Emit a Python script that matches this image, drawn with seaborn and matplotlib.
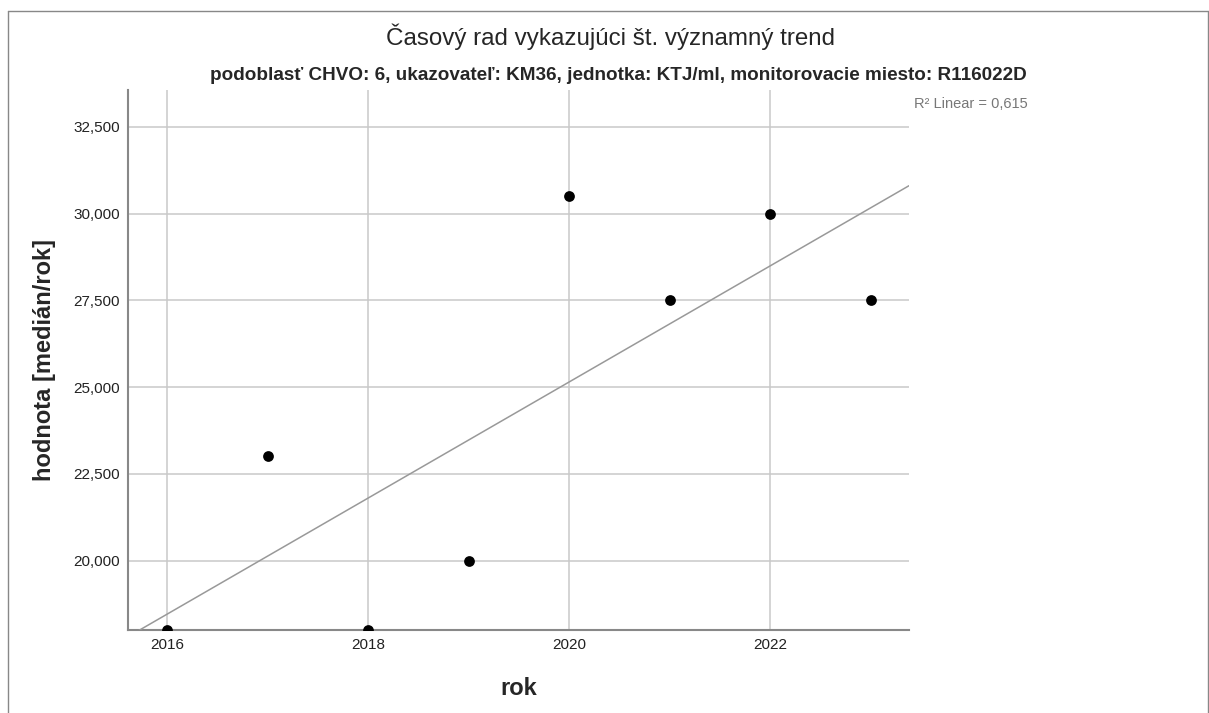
import numpy as np
import pandas as pd
import seaborn as sns
import matplotlib.pyplot as plt
from matplotlib.lines import Line2D
from matplotlib.ticker import FuncFormatter

# data
roky = [2016, 2017, 2018, 2019, 2020, 2021, 2022, 2023]
hodnoty = [18000, 23000, 18000, 20000, 30500, 27500, 30000, 27500]
x_ticks = [2016, 2018, 2020, 2022]
y_ticks = [20000, 22500, 25000, 27500, 30000, 32500]

data = pd.DataFrame({'rok': roky, 'hodnota': hodnoty})

sns.set_style('white')
plt.rcParams['font.family'] = ['Liberation Sans', 'DejaVu Sans']

fig = plt.figure(figsize=(12.09, 7.13), dpi=100)
# axes box in pixels: left 128, right 909, top 90, bottom 630
ax = fig.add_axes([128 / 1209, 1 - 630 / 713, (909 - 128) / 1209, (630 - 90) / 713])

ax.set_xlim(2015.61, 2023.38)
ax.set_ylim(18000, 33560)

sns.regplot(ax=ax, data=data, x='rok', y='hodnota', ci=None, truncate=False,
            scatter_kws={'color': 'black', 's': 60, 'alpha': 1, 'zorder': 5, 'linewidths': 0},
            line_kws={'color': '#999999', 'linewidth': 1.1, 'zorder': 4})

ax.set_xlim(2015.61, 2023.38)
ax.set_ylim(18000, 33560)
ax.set_xticks(x_ticks)
ax.set_yticks(y_ticks)
ax.yaxis.set_major_formatter(FuncFormatter(lambda v, p: f'{int(v):,}'))
ax.grid(True, color='#c9c9c9', linewidth=1.1)
ax.set_axisbelow(True)
ax.tick_params(length=0, labelsize=11, colors='#222222', pad=6)
for s in ['top', 'right']:
    ax.spines[s].set_visible(False)
for s in ['left', 'bottom']:
    ax.spines[s].set_color('#888888')
    ax.spines[s].set_linewidth(1.5)

ax.set_xlabel('rok', fontsize=17, fontweight='bold', labelpad=18)
ax.set_ylabel('hodnota [medián/rok]', fontsize=17, fontweight='bold', labelpad=12)

# r2 of the linear fit
r2 = np.corrcoef(roky, hodnoty)[0, 1] ** 2
fig.text(914 / 1209, 1 - 104 / 713, f'R² Linear = {r2:.3f}'.replace('.', ','),
         fontsize=10.5, color='#777777', va='center', ha='left')

fig.text(610 / 1209, 1 - 37 / 713, 'Časový rad vykazujúci št. významný trend',
         fontsize=17.4, ha='center', va='center')
fig.text(618 / 1209, 1 - 75 / 713,
         'podoblasť CHVO: 6, ukazovateľ: KM36, jednotka: KTJ/ml, monitorovacie miesto: R116022D',
         fontsize=13.6, fontweight='bold', ha='center', va='center')

# frame around the chart
fig.add_artist(Line2D([8 / 1209, 8 / 1209], [0, 1 - 11 / 713], color='#888888', linewidth=1))
fig.add_artist(Line2D([8 / 1209, 1208 / 1209], [1 - 11 / 713, 1 - 11 / 713], color='#888888', linewidth=1))
fig.add_artist(Line2D([1208 / 1209, 1208 / 1209], [0, 1 - 11 / 713], color='#888888', linewidth=1))

fig.savefig('out.png', dpi=100)
